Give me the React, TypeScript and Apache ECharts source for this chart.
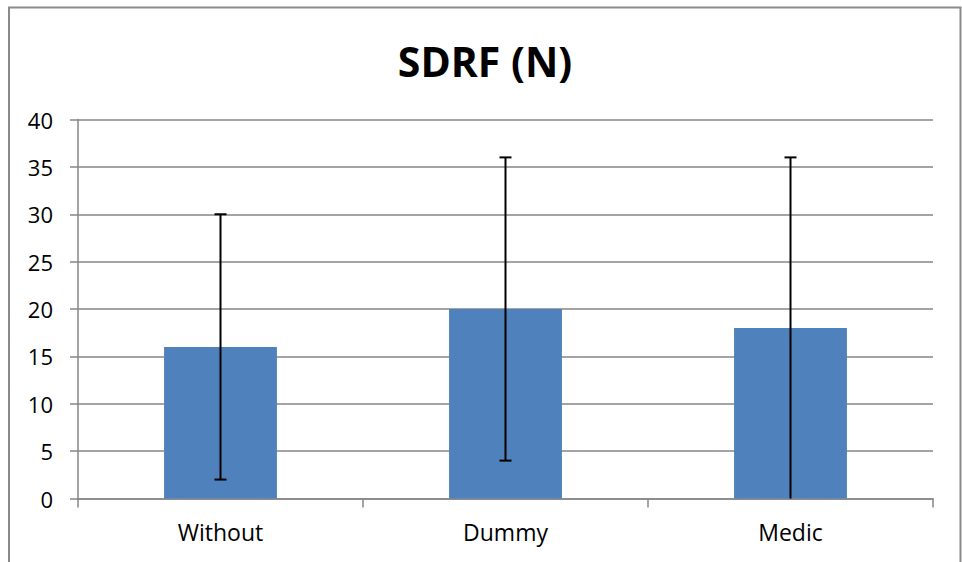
import React, { useEffect, useRef } from "react";
import * as echarts from "echarts";

const categories = ["Without", "Dummy", "Medic"];
const means = [16, 20, 18];
const errLow = [2, 4, 0];
const errHigh = [30, 36, 36];
const yTicks = { min: 0, max: 40, interval: 5 };
const title = "SDRF (N)";

export default function App() {
  const ref = useRef<HTMLDivElement>(null);
  useEffect(() => {
    document.body.style.margin = "0";
    const chart = echarts.init(ref.current!, null, { renderer: "svg" });
    const font = "'Open Sans', 'Noto Sans', sans-serif";
    const errData = categories.map((c, i) => [i, errLow[i], errHigh[i]]);
    chart.setOption({
      animation: false,
      backgroundColor: "#ffffff",
      title: {
        text: title,
        left: 480,
        textAlign: "center",
        top: 35,
        textStyle: { fontFamily: font, fontSize: 41, fontWeight: "bold", color: "#000" },
      },
      graphic: [
        {
          type: "rect",
          shape: { x: 9, y: 7.5, width: 951.5, height: 600 },
          style: { fill: "none", stroke: "#8a8a8a", lineWidth: 2 },
          silent: true,
        },
      ],
      grid: { left: 78, right: 29, top: 119.5, bottom: 63.5, containLabel: false },
      xAxis: {
        type: "category",
        data: categories,
        boundaryGap: true,
        axisLine: { lineStyle: { color: "#868686", width: 1.5 } },
        axisTick: { show: true, length: 9, lineStyle: { color: "#868686", width: 1.5 } },
        axisLabel: { fontFamily: font, fontSize: 23, color: "#000", margin: 22 },
        splitLine: { show: false },
      },
      yAxis: {
        type: "value",
        min: yTicks.min,
        max: yTicks.max,
        interval: yTicks.interval,
        axisLine: { show: true, lineStyle: { color: "#868686", width: 1.5 } },
        axisTick: { show: true, length: 8, lineStyle: { color: "#868686", width: 1.5 } },
        axisLabel: { fontFamily: font, fontSize: 22, color: "#000", margin: 25 },
        splitLine: { show: true, lineStyle: { color: "#868686", width: 1.5 } },
      },
      series: [
        {
          type: "bar",
          data: means,
          barWidth: "39.6%",
          itemStyle: { color: "#4F81BD" },
          z: 2,
        },
        {
          type: "custom",
          data: errData,
          z: 10,
          renderItem: (params: any, api: any) => {
            const x = api.value(0);
            const lo = api.coord([x, api.value(1)]);
            const hi = api.coord([x, api.value(2)]);
            const cap = 6;
            const style = { stroke: "#000", lineWidth: 2 };
            const children: any[] = [
              { type: "line", shape: { x1: lo[0], y1: lo[1], x2: hi[0], y2: hi[1] }, style },
              { type: "line", shape: { x1: hi[0] - cap, y1: hi[1], x2: hi[0] + cap, y2: hi[1] }, style },
            ];
            if (api.value(1) > yTicks.min) {
              children.push({ type: "line", shape: { x1: lo[0] - cap, y1: lo[1], x2: lo[0] + cap, y2: lo[1] }, style });
            }
            return { type: "group", children };
          },
        },
      ],
    });
    return () => chart.dispose();
  }, []);
  return <div ref={ref} style={{ width: 962, height: 562 }} />;
}
